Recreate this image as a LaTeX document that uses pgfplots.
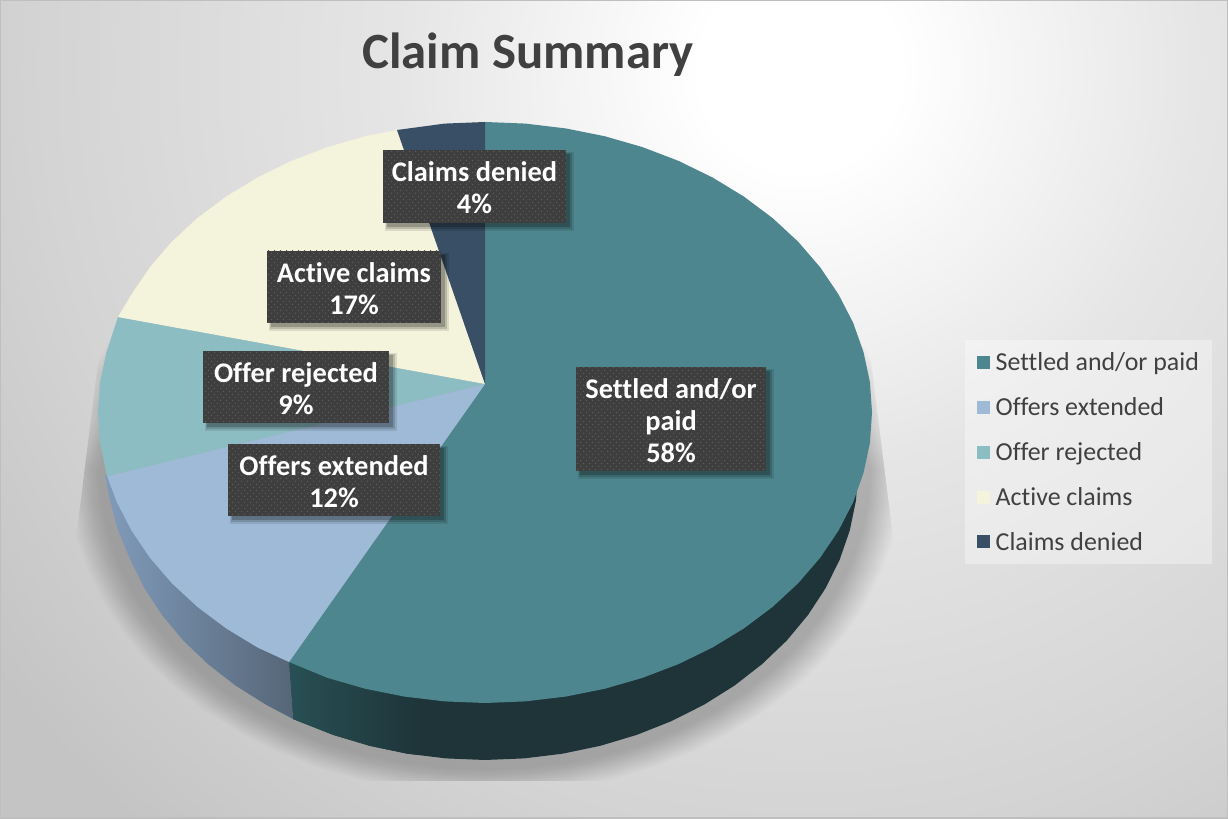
\documentclass[border=0pt]{standalone}
\usepackage{pgfplots}
\pgfplotsset{compat=1.18}
\usepackage{pgfplotstable}
\usepackage{fontspec}
\setmainfont[Ligatures=CommonOff]{Carlito}
\usetikzlibrary{patterns}
\definecolor{settled}{RGB}{77,134,142}
\definecolor{offers}{RGB}{158,186,214}
\definecolor{rejected}{RGB}{140,189,195}
\definecolor{active}{RGB}{244,243,220}
\definecolor{denied}{RGB}{56,79,101}
\definecolor{txt}{RGB}{64,64,64}
\definecolor{boxc}{RGB}{62,62,62}
\definecolor{dotc}{RGB}{92,92,92}
\pgfdeclarepatternformonly{ldots}{\pgfqpoint{-1bp}{-1bp}}{\pgfqpoint{7bp}{7bp}}{\pgfqpoint{6bp}{6bp}}{%
 \pgfpathcircle{\pgfqpoint{1.5bp}{1.5bp}}{0.75bp}\pgfpathcircle{\pgfqpoint{4.5bp}{4.5bp}}{0.75bp}\pgfusepath{fill}}
\pgfdeclareradialshading{bgshade}{\pgfpointorigin}{%
 color(0bp)=(white); color(2.5bp)=(white); color(10bp)=(black!10); color(19bp)=(black!17); color(25bp)=(black!23); color(50bp)=(black!23)}
\pgfplotstableread{
x y
805 330
835 380
845 430
858 470
856 500.3
849.8 530.3
839.7 559.6
825.7 588
808 615
786.8 640.5
762.2 664
734.6 685.5
704.2 704.6
671.5 721.1
636.7 734.9
600.3 745.8
562.5 753.7
524 758.4
485 760
446 758.4
407.5 753.7
369.7 745.8
333.3 734.9
298.5 721.1
265.8 704.6
235.4 685.5
207.8 664
183.2 640.5
162 615
144.3 588
130.3 559.6
120.2 530.3
114 500.3
112 470
125 430
135 380
165 330
}\shadowoutline
\newcommand\lab[5]{%
 \fill[black,opacity=.10] (axis cs:#1+2,#2+2) rectangle (axis cs:#3+8,#4+8);
 \fill[black,opacity=.15] (axis cs:#1+3,#2+3) rectangle (axis cs:#3+6,#4+6);
 \fill[black,opacity=.20] (axis cs:#1+4,#2+4) rectangle (axis cs:#3+4,#4+4);
 \fill[boxc] (axis cs:#1,#2) rectangle (axis cs:#3,#4);
 \fill[pattern=ldots,pattern color=dotc] (axis cs:#1,#2) rectangle (axis cs:#3,#4);
 \node[text=white,align=center,font=\fontsize{28.5}{32}\selectfont\bfseries,inner sep=0pt] at (axis cs:{(#1+#3)/2},{(#2+#4)/2+1.5}) {#5};
}
\begin{document}
\begin{tikzpicture}[x=1bp,y=1bp]
\useasboundingbox (0,0) rectangle (1228,819);
\begin{scope}
\clip (0,0) rectangle (1228,819);
\shade[shading=bgshade] (-200,-251) rectangle (1800,1749);
\end{scope}
\draw[black!25,line width=1.5bp] (0.75,0.75) rectangle (1227.25,818.25);
\begin{axis}[
  at={(0,0)},anchor=south west,
  scale only axis,width=1228bp,height=819bp,
  xmin=0,xmax=1228,ymin=0,ymax=819,y dir=reverse,
  hide axis,clip=false,
  legend style={at={(axis cs:965,340)},anchor=north west,draw=none,fill=white,fill opacity=.35,text opacity=1,
    font=\fontsize{26}{28}\selectfont\color{txt},row sep=21.4bp,inner xsep=11.5bp,inner ysep=10.5bp,
    cells={anchor=west}},
  legend image code/.code={\fill[#1,fill opacity=1] (0bp,-6.5bp) rectangle (13bp,6.5bp);\path (17bp,0bp);},
]
% shadow
\begin{scope}
\clip (axis cs:102,330) -- (axis cs:866,320) -- (axis cs:898,578) -- (axis cs:898,781) -- (axis cs:72,781) -- (axis cs:72,570) -- cycle;
\pgfplotsinvokeforeach{1,...,18}{
\addplot[forget plot,draw=none,fill=black,fill opacity=.012,mark=none] table[x expr={485+(\thisrow{x}-485)*(1.03+0.005*#1)},y expr={470+(\thisrow{y}-470)*(1.03+0.005*#1)}] {\shadowoutline};
}
\end{scope}
% settled wall
\addplot[forget plot,draw=none,fill={rgb,255:red,30;green,52;blue,57},mark=none] coordinates {
(293,719)(333.3,734.9)(369.7,745.8)(407.5,753.7)(446,758.4)(485,760)(524,758.4)(562.5,753.7)(600.3,745.8)(636.7,734.9)(671.5,721.1)(704.2,704.6)(734.6,685.5)(762.2,664)(786.8,640.5)(808,615)(825.7,588)(839.7,559.6)(849.8,530.3)(856,500.3)(858,470)(700,400)(289,662)};
\addplot[forget plot,draw=none,shade,left color={rgb,255:red,40;green,80;blue,84},right color={rgb,255:red,30;green,52;blue,57},mark=none] coordinates {
(293,719)(333.3,734.9)(369.7,745.8)(407.5,753.7)(420,755)(420,660)(289,662)};
% offers wall
\addplot[forget plot,draw=none,shade,left color={rgb,255:red,128;green,155;blue,186},right color={rgb,255:red,86;green,102;blue,120},mark=none] coordinates {
(293,719)(265.8,704.6)(235.4,685.5)(207.8,664)(183.2,640.5)(162,615)(144.3,588)(130.3,559.6)(118,530.3)(110,500.3)(105,475)(200,500)(289,662)};
% faces
\addplot[draw=none,fill=settled,mark=none] coordinates {
(485,384)(485,122)(525.4,123.6)(565.5,128.4)(604.6,136.2)(642.4,147.1)(678.5,160.9)(712.5,177.5)(743.9,196.6)(772.6,218.1)(798.1,241.7)(820.1,267.2)(838.5,294.4)(853.1,322.7)(863.5,352.1)(869.9,382.1)(872,412.5)(869.9,442.9)(863.5,472.9)(853.1,502.3)(838.5,530.6)(820.1,557.8)(798.1,583.3)(772.6,606.9)(743.9,628.4)(712.5,647.5)(678.5,664.1)(642.4,677.9)(604.6,688.8)(565.5,696.6)(525.4,701.4)(485,703)(444.6,701.4)(404.5,696.6)(365.4,688.8)(327.6,677.9)(289,662)};
\addlegendentry{Settled and/or paid}
\addplot[draw=none,fill=offers,mark=none] coordinates {
(485,384)(289,662)(257.5,647.5)(226.1,628.4)(197.4,606.9)(171.9,583.3)(149.9,557.8)(131.5,530.6)(116.9,502.3)(107,476)};
\addlegendentry{Offers extended}
\addplot[draw=none,fill=rejected,mark=none] coordinates {
(485,384)(107,476)(100.1,442.9)(98,412.5)(100.1,382.1)(106.5,352.1)(118,317)};
\addlegendentry{Offer rejected}
\addplot[draw=none,fill=active,mark=none] coordinates {
(485,384)(118,317)(131.5,294.4)(149.9,267.2)(171.9,241.7)(197.4,218.1)(226.1,196.6)(257.5,177.5)(291.5,160.9)(327.6,147.1)(365.4,136.2)(397,130)};
\addlegendentry{Active claims}
\addplot[draw=none,fill=denied,mark=none] coordinates {
(485,384)(397,130)(444.6,123.6)(485,122)};
\addlegendentry{Claims denied}
% labels
\lab{383}{150}{566}{223}{Claims denied\\4\%}
\lab{267}{251}{441}{323}{Active claims\\17\%}
\lab{203}{351}{389}{423}{Offer rejected\\9\%}
\lab{228}{444}{440}{516}{Offers extended\\12\%}
\lab{576}{367}{766}{471}{Settled and/or\\paid\\58\%}
\node[text=txt,font=\fontsize{51}{60}\selectfont\bfseries,inner sep=0pt] at (axis cs:528,55) {Claim Summary};
\end{axis}
\end{tikzpicture}
\end{document}
